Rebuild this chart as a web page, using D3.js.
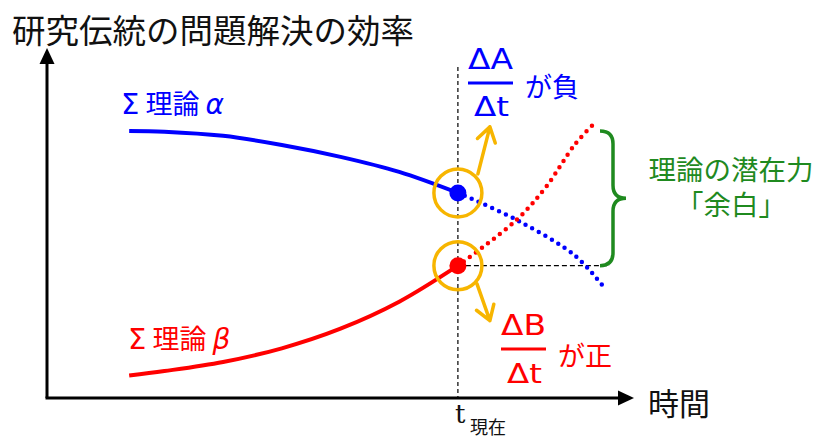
<!DOCTYPE html>
<html>
<head>
<meta charset="utf-8">
<script src="https://cdn.jsdelivr.net/npm/d3@7"></script>
<style>
  body { margin: 0; background: #fff; }
</style>
</head>
<body>
<div class="viz"></div>
<script>
const width = 822;
const height = 436;

// time (t) and efficiency values
const tPast = [1.4, 2, 3, 4, 5, 6, 7];
const alphaPast = [7.63, 7.61, 7.49, 7.23, 6.89, 6.46, 5.86];
const betaPast = [0.64, 0.77, 1.03, 1.42, 1.98, 2.75, 3.78];
const tAlphaFuture = [7, 8, 9, 9.47];
const alphaFuture = [5.86, 5.09, 4.06, 3.2];
const tBetaFuture = [7, 8, 8.5, 9, 9.35];
const betaFuture = [3.78, 5.09, 6.03, 7.26, 7.89];
const tNow = 7;

// texts
const titleText = "研究伝統の問題解決の効率";
const xLabel = "時間";
const braceLabel = ["理論の潜在力", "「余白」"];

const cjk = "'Noto Sans CJK JP', sans-serif";
const mathFont = "'DejaVu Sans', sans-serif";
const blue = "#0000ff", red = "#ff0000", orange = "#f7b500", green = "#1f8a1f";

const svg = d3.select(".viz")
    .append("svg")
    .attr("width", width)
    .attr("height", height);

const x = d3.scaleLinear().domain([0, 10]).range([47, 634]);
const y = d3.scaleLinear().domain([0, 10]).range([398, 48]);

const line = d3.line()
    .x(d => x(d[0]))
    .y(d => y(d[1]))
    .curve(d3.curveCatmullRom.alpha(0.5));

const zip = (a, b) => a.map((v, i) => [v, b[i]]);

// title
svg.append("text")
    .attr("x", 12).attr("y", 28)
    .attr("dominant-baseline", "central")
    .style("font-family", cjk).style("font-size", "33.5px").style("fill", "#111")
    .text(titleText);

// axes with arrows
svg.append("line")
    .attr("x1", x(0)).attr("y1", y(0)).attr("x2", x(0)).attr("y2", y(10) + 14)
    .style("stroke", "#000").style("stroke-width", 3);
svg.append("path")
    .attr("d", `M${x(0)},${y(10)} L${x(0) - 7.5},${y(10) + 16} L${x(0) + 7.5},${y(10) + 16}Z`)
    .style("fill", "#000");
svg.append("line")
    .attr("x1", x(0) - 1.5).attr("y1", y(0)).attr("x2", x(10) - 14).attr("y2", y(0))
    .style("stroke", "#000").style("stroke-width", 3);
svg.append("path")
    .attr("d", `M${x(10)},${y(0)} L${x(10) - 16},${y(0) - 7.5} L${x(10) - 16},${y(0) + 7.5}Z`)
    .style("fill", "#000");

svg.append("text")
    .attr("x", 648).attr("y", 401)
    .attr("dominant-baseline", "central")
    .style("font-family", cjk).style("font-size", "31px").style("fill", "#111")
    .text(xLabel);

// t now label
svg.append("text")
    .attr("x", x(tNow) - 3).attr("y", 423)
    .style("font-family", "'DejaVu Serif', serif").style("font-size", "26px").style("fill", "#111")
    .text("t");
svg.append("text")
    .attr("x", x(tNow) + 12).attr("y", 426)
    .attr("dominant-baseline", "central")
    .style("font-family", cjk).style("font-size", "18px").style("fill", "#111")
    .text("現在");

// dashed guides
svg.append("line")
    .attr("x1", x(tNow)).attr("y1", 67).attr("x2", x(tNow)).attr("y2", y(0))
    .style("stroke", "#000").style("stroke-width", 1.2).style("stroke-dasharray", "4 3");
svg.append("line")
    .attr("x1", x(tNow)).attr("y1", y(betaPast[betaPast.length - 1]))
    .attr("x2", 610).attr("y2", y(betaPast[betaPast.length - 1]))
    .style("stroke", "#000").style("stroke-width", 1.2).style("stroke-dasharray", "5 3");

// curves: solid past, dotted future
const series = [
    { past: zip(tPast, alphaPast), future: zip(tAlphaFuture, alphaFuture), color: blue },
    { past: zip(tPast, betaPast), future: zip(tBetaFuture, betaFuture), color: red }
];

series.forEach(s => {
    svg.append("path")
        .attr("d", line(s.future))
        .style("fill", "none").style("stroke", s.color)
        .style("stroke-width", 4.5).style("stroke-linecap", "round")
        .style("stroke-dasharray", "0 7.5");
    svg.append("path")
        .attr("d", line(s.past))
        .style("fill", "none").style("stroke", s.color)
        .style("stroke-width", 4);
});

// orange circles + arrows
const nowPts = [
    { v: alphaPast[alphaPast.length - 1], start: [20, -19], tip: [32, -66] },
    { v: betaPast[betaPast.length - 1], start: [19, 18], tip: [32, 55] }
];

nowPts.forEach(p => {
    const cx = x(tNow), cy = y(p.v);
    svg.append("circle")
        .attr("cx", cx).attr("cy", cy).attr("r", 24)
        .style("fill", "none").style("stroke", orange).style("stroke-width", 3.5);
    const x1 = cx + p.start[0], y1 = cy + p.start[1];
    const x2 = cx + p.tip[0], y2 = cy + p.tip[1];
    const ang = Math.atan2(y2 - y1, x2 - x1);
    const len = 17, spread = Math.PI / 5.5;
    const a1 = [x2 - len * Math.cos(ang - spread), y2 - len * Math.sin(ang - spread)];
    const a2 = [x2 - len * Math.cos(ang + spread), y2 - len * Math.sin(ang + spread)];
    svg.append("path")
        .attr("d", `M${x1},${y1} L${x2},${y2} M${a1[0]},${a1[1]} L${x2},${y2} L${a2[0]},${a2[1]}`)
        .style("fill", "none").style("stroke", orange).style("stroke-width", 3.5)
        .style("stroke-linecap", "round").style("stroke-linejoin", "round");
});

// dots at t now
svg.append("circle")
    .attr("cx", x(tNow)).attr("cy", y(alphaPast[alphaPast.length - 1])).attr("r", 8.5)
    .style("fill", blue);
svg.append("circle")
    .attr("cx", x(tNow)).attr("cy", y(betaPast[betaPast.length - 1])).attr("r", 8.5)
    .style("fill", red);

// series labels
function seriesLabel(lx, ly, greek, color) {
    const t = svg.append("text")
        .attr("x", lx).attr("y", ly)
        .style("font-size", "27px").style("fill", color);
    t.append("tspan").style("font-family", mathFont).style("font-size", "29px").text("Σ");
    t.append("tspan").style("font-family", cjk).text(" 理論 ");
    t.append("tspan").style("font-family", mathFont).style("font-style", "italic").style("font-size", "28px").text(greek);
}
seriesLabel(121, 114, "α", blue);
seriesLabel(128, 349, "β", red);

// fraction labels
function fraction(fx, topY, lineY, botY, numer, color, word, wordY) {
    svg.append("text")
        .attr("x", fx).attr("y", topY)
        .attr("textLength", 45).attr("lengthAdjust", "spacingAndGlyphs")
        .style("font-family", mathFont).style("font-size", "29px").style("fill", color)
        .text("Δ" + numer);
    svg.append("line")
        .attr("x1", fx).attr("x2", fx + 45).attr("y1", lineY).attr("y2", lineY)
        .style("stroke", color).style("stroke-width", 3);
    svg.append("text")
        .attr("x", fx + 6).attr("y", botY)
        .attr("textLength", 35).attr("lengthAdjust", "spacingAndGlyphs")
        .style("font-family", mathFont).style("font-size", "27px").style("fill", color)
        .text("Δt");
    svg.append("text")
        .attr("x", fx + 57).attr("y", wordY)
        .attr("dominant-baseline", "central")
        .style("font-family", cjk).style("font-size", "27px").style("fill", color)
        .text(word);
}
fraction(468, 69, 83, 116, "A", blue, "が負", 85);
fraction(501, 335, 349, 383, "B", red, "が正", 354);

// brace for the margin
const bTop = y(alphaPast[0]), bBot = y(betaPast[betaPast.length - 1]);
const bMid = (bTop + bBot) / 2, bx = 613;
svg.append("path")
    .attr("d", `M600,${bTop} Q${bx},${bTop} ${bx},${bTop + 13} L${bx},${bMid - 13} Q${bx},${bMid} ${bx + 13},${bMid} ` +
               `Q${bx},${bMid} ${bx},${bMid + 13} L${bx},${bBot - 13} Q${bx},${bBot} 600,${bBot}`)
    .style("fill", "none").style("stroke", green).style("stroke-width", 3.5);

braceLabel.forEach((s, i) => {
    svg.append("text")
        .attr("x", 731).attr("y", 168 + i * 35)
        .attr("text-anchor", "middle")
        .attr("dominant-baseline", "central")
        .style("font-family", cjk).style("font-size", "27.5px").style("fill", green)
        .text(s);
});
</script>
</body>
</html>
